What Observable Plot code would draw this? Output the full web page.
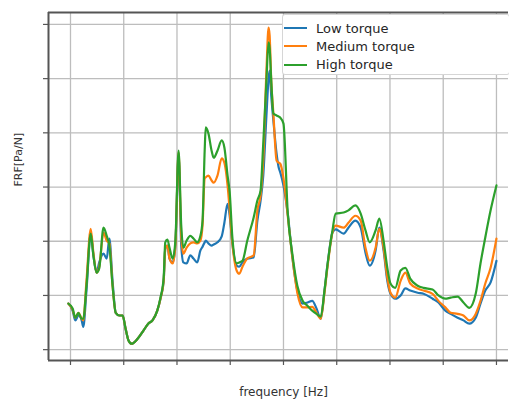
<!DOCTYPE html>
<html><head><meta charset="utf-8">
<script src="https://cdn.jsdelivr.net/npm/d3@7"></script>
<script src="https://cdn.jsdelivr.net/npm/@observablehq/plot@0.6"></script>
<style>
body{margin:0;background:#fff;font-family:"DejaVu Sans",sans-serif;}
#wrap{position:relative;width:509px;height:403px;overflow:hidden;}
#legend{position:absolute;left:282px;top:14px;width:228px;height:61px;background:#fff;border:1px solid #d6d6d6;border-radius:3px;box-sizing:border-box;}
.item{position:absolute;left:0;height:18px;display:flex;align-items:center;font-size:13px;color:#262626;}
.swatch{width:23px;height:2.2px;margin-left:1px;margin-right:9px;}
</style>
</head><body>
<div id="wrap"><div id="legend"></div></div>
<script>
const series = ["Low torque", "Medium torque", "High torque"];
const colors = ["#1f77b4", "#ff7f0e", "#2ca02c"];
const xTicks = [0, 100, 200, 300, 400, 500, 600, 700, 800];
const yTicks = [0, 1, 2, 3, 4, 5, 6];
const xLabel = "frequency [Hz]";
const yLabel = "FRF[Pa/N]";

const freq = [-4,4,9,15,21,24,30,38,43,49,54,62,68,73,79,85,92,98,103,109,115,126,137,146,154,163,169,175,178,182,186,192,197,203,208,212,218,225,231,238,244,248,252,254,259,265,269,276,284,289,295,299,304,312,317,323,332,344,351,357,362,368,372,374,377,381,387,391,394,400,408,417,426,436,445,454,462,470,477,483,492,498,513,522,535,545,554,562,573,580,588,595,601,610,620,629,638,652,663,680,691,704,714,727,738,749,761,770,779,789,800];

const high = [0.85,0.76,0.59,0.68,0.57,0.57,1.18,2.14,1.74,1.42,1.50,2.25,2.10,1.92,1.18,0.68,0.63,0.63,0.41,0.17,0.11,0.20,0.35,0.48,0.54,0.72,0.96,1.33,1.98,2.03,1.88,1.68,2.01,3.67,2.29,1.88,2.01,2.10,2.05,1.98,2.10,2.38,3.67,4.10,3.99,3.67,3.54,3.67,3.86,3.73,3.21,2.90,2.07,1.59,1.61,1.64,2.01,2.44,2.75,2.94,3.80,4.97,5.67,5.56,4.97,4.36,4.32,4.30,4.28,4.17,2.53,1.74,1.18,0.90,0.81,0.72,0.66,0.61,1.09,1.59,2.20,2.51,2.53,2.57,2.66,2.51,2.20,1.98,2.20,2.42,2.01,1.51,1.22,1.14,1.46,1.51,1.31,1.18,1.14,1.11,1.00,0.94,0.96,0.98,0.87,0.77,1.03,1.59,2.07,2.57,3.03];

const medium = [0.85,0.74,0.59,0.68,0.57,0.54,1.27,2.23,1.79,1.42,1.53,2.16,2.01,1.96,1.18,0.68,0.63,0.63,0.41,0.17,0.11,0.20,0.35,0.48,0.54,0.72,0.94,1.27,1.86,1.92,1.68,1.59,1.92,3.64,2.10,1.77,1.88,1.96,1.98,1.96,2.01,2.29,3.16,3.18,3.21,3.12,3.08,3.21,3.53,3.45,3.03,2.57,1.96,1.46,1.40,1.53,1.68,1.74,2.57,2.84,3.49,5.15,5.94,5.80,4.97,4.36,3.49,3.45,3.43,3.16,2.47,1.68,1.05,0.78,0.78,0.79,0.68,0.57,1.05,1.55,2.16,2.29,2.25,2.34,2.47,2.38,1.88,1.64,1.88,2.23,1.88,1.33,1.05,0.96,1.27,1.42,1.22,1.13,1.09,1.03,0.90,0.78,0.68,0.66,0.63,0.54,0.66,0.90,1.22,1.51,2.05];

const low = [0.85,0.72,0.54,0.63,0.54,0.42,1.09,2.14,1.74,1.42,1.61,1.77,1.68,2.05,1.27,0.68,0.63,0.63,0.41,0.17,0.11,0.20,0.35,0.48,0.54,0.72,0.94,1.27,1.86,1.92,1.68,1.61,1.92,3.58,1.92,1.61,1.59,1.74,1.68,1.61,1.83,1.90,1.98,2.01,1.96,1.92,1.94,1.98,2.09,2.34,2.69,2.47,1.96,1.55,1.53,1.61,1.68,1.70,2.38,2.75,3.21,4.32,5.00,5.15,4.69,4.23,3.62,3.36,3.27,3.03,2.51,1.68,1.09,0.85,0.87,0.90,0.76,0.57,1.09,1.59,2.16,2.22,2.14,2.25,2.38,2.25,1.79,1.55,1.83,2.25,1.83,1.27,1.03,0.94,1.00,1.13,1.09,1.05,1.03,0.94,0.87,0.72,0.66,0.59,0.54,0.48,0.59,0.85,1.09,1.24,1.64];

const valuesBySeries = [low, medium, high];
const data = [];
series.forEach((s, i) => freq.forEach((f, j) => data.push({series: s, freq: f, frf: valuesBySeries[i][j]})));

const xDom = [-41.3, 822.6];
const yDom = [-0.2, 6.22];
const gridStyle = {stroke: "#bdbdbd", strokeOpacity: 1, strokeWidth: 1.3};

const chart = Plot.plot({
  width: 509, height: 403,
  marginLeft: 48, marginRight: 1, marginTop: 12, marginBottom: 43,
  x: {domain: xDom, label: null},
  y: {domain: yDom, label: null},
  color: {domain: series, range: colors},
  style: {fontFamily: "DejaVu Sans, sans-serif", background: "transparent"},
  marks: [
    Plot.gridX(xTicks, gridStyle),
    Plot.gridY(yTicks, gridStyle),
    Plot.axisX(xTicks, {tickFormat: () => "", tickSize: 5, stroke: "#555", strokeWidth: 1.2, label: null}),
    Plot.axisY(yTicks, {tickFormat: () => "", tickSize: 5, stroke: "#555", strokeWidth: 1.2, label: null}),
    Plot.line(data, {x: "freq", y: "frf", z: "series", stroke: "series", curve: "monotone-x", strokeWidth: 2.2}),
    Plot.ruleX([xDom[0]], {stroke: "#555", strokeWidth: 2}),
    Plot.ruleY([yDom[0], yDom[1]], {stroke: "#555", strokeWidth: 2}),
    Plot.text([xLabel], {frameAnchor: "bottom", dy: 35, dx: 5, fontSize: 12, fill: "#333"}),
    Plot.text([yLabel], {frameAnchor: "left", dx: -30, rotate: -90, fontSize: 11, fill: "#333"})
  ]
});
const wrap = document.getElementById("wrap");
wrap.insertBefore(chart, wrap.firstChild);

const legend = document.getElementById("legend");
series.forEach((s, i) => {
  const item = document.createElement("div");
  item.className = "item";
  item.style.top = (4 + i * 18.3) + "px";
  const sw = document.createElement("span");
  sw.className = "swatch";
  sw.style.background = colors[i];
  const t = document.createElement("span");
  t.textContent = s;
  item.appendChild(sw); item.appendChild(t);
  legend.appendChild(item);
});
</script>
</body></html>
